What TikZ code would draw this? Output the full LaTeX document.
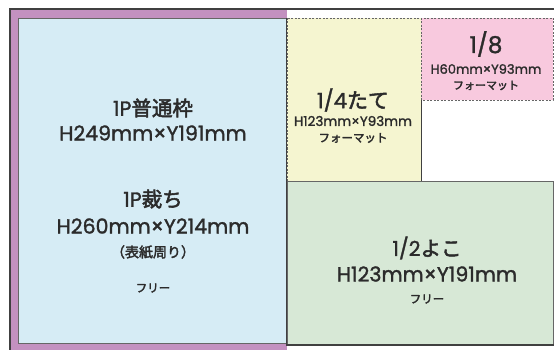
\documentclass[tikz,border=0pt]{standalone}
\usepackage{fontspec}
\setmainfont{Noto Sans CJK JP}[RawFeature={embolden=2.5}]
\newfontfamily\lat{Poppins}[RawFeature={embolden=1.5}]
\usepackage{tikz}
\definecolor{bleed}{HTML}{C391C0}
\definecolor{fullpage}{HTML}{D6ECF5}
\definecolor{quarter}{HTML}{F5F5D0}
\definecolor{eighth}{HTML}{F8C9DE}
\definecolor{half}{HTML}{D7E8D6}
\definecolor{ink}{HTML}{2B2B2B}
\newcommand{\sz}[2]{{\lat #1×#2}}
\tikzstyle{panel} = [draw=black!60, line width=0.8pt]
\tikzstyle{dashpanel} = [panel, dashed, dash pattern=on 2pt off 1.5pt]
\tikzstyle{frame} = [draw=black!75, line width=1.2pt]
\tikzstyle{big} = [inner sep=0pt, text=ink, font=\fontsize{20.5}{22}\selectfont]
\tikzstyle{mid} = [inner sep=0pt, text=ink, font=\fontsize{13.5}{16}\selectfont]
\tikzstyle{small} = [inner sep=0pt, text=ink, font=\fontsize{11.5}{13}\selectfont]

\begin{document}
\begin{tikzpicture}[x=1pt, y=-1pt]
\useasboundingbox (0,0) rectangle (554,350);

%%% panels %%%%%%%%%%%%%%%%%%%%%%%
\fill [bleed] (10,9) rectangle (287,350);
\draw [panel, fill=fullpage] (18,18) rectangle (286,343);
\draw [dashpanel, fill=quarter] (287,18) rectangle (421,181);
\draw [dashpanel, fill=eighth] (421,18) rectangle (553,100);
\draw [panel, fill=half] (287,181) rectangle (553,345);
\draw [frame] (10,350) -- (10,9) -- (554,9);
\draw [frame] (286.5,18) -- (286.5,345) -- (554,345);
\draw [frame, line width=0.9pt] (421,100) -- (421,181);

%%% 1P %%%%%%%%%%%%%%%%%%%%%%%
\node (normal) [big] at (153,108) {{\lat 1P}普通枠};
\node (normalsize) [big] at (153,133) {\sz{H249mm}{Y191mm}};
\node (cut) [big] at (153,199) {{\lat 1P}裁ち};
\node (cutsize) [big] at (153,226) {\sz{H260mm}{Y214mm}};
\node (cover) [mid, font=\fontsize{14}{16}\selectfont] at (153,252) {（表紙周り）};
\node (free1) [small] at (153,288) {フリー};

%%% 1/4 %%%%%%%%%%%%%%%%%%%%%%%
\node (quart) [big, font=\fontsize{21}{22}\selectfont] at (353,100) {{\lat 1/4}たて};
\node (quartsize) [mid] at (353,121) {\sz{H123mm}{Y93mm}};
\node (quartfmt) [small] at (353,138) {フォーマット};

%%% 1/8 %%%%%%%%%%%%%%%%%%%%%%%
\node (eig) [big, font=\fontsize{23}{24}\selectfont] at (486,44) {\lat 1/8};
\node (eigsize) [mid, font=\fontsize{13}{15}\selectfont] at (486,69) {\sz{H60mm}{Y93mm}};
\node (eigfmt) [small, font=\fontsize{11}{13}\selectfont] at (486,85.5) {フォーマット};

%%% 1/2 %%%%%%%%%%%%%%%%%%%%%%%
\node (hlf) [big] at (427,248) {{\lat 1/2}よこ};
\node (hlfsize) [big] at (427,274) {\sz{H123mm}{Y191mm}};
\node (free2) [small] at (427,299) {フリー};
\end{tikzpicture}
\end{document}
